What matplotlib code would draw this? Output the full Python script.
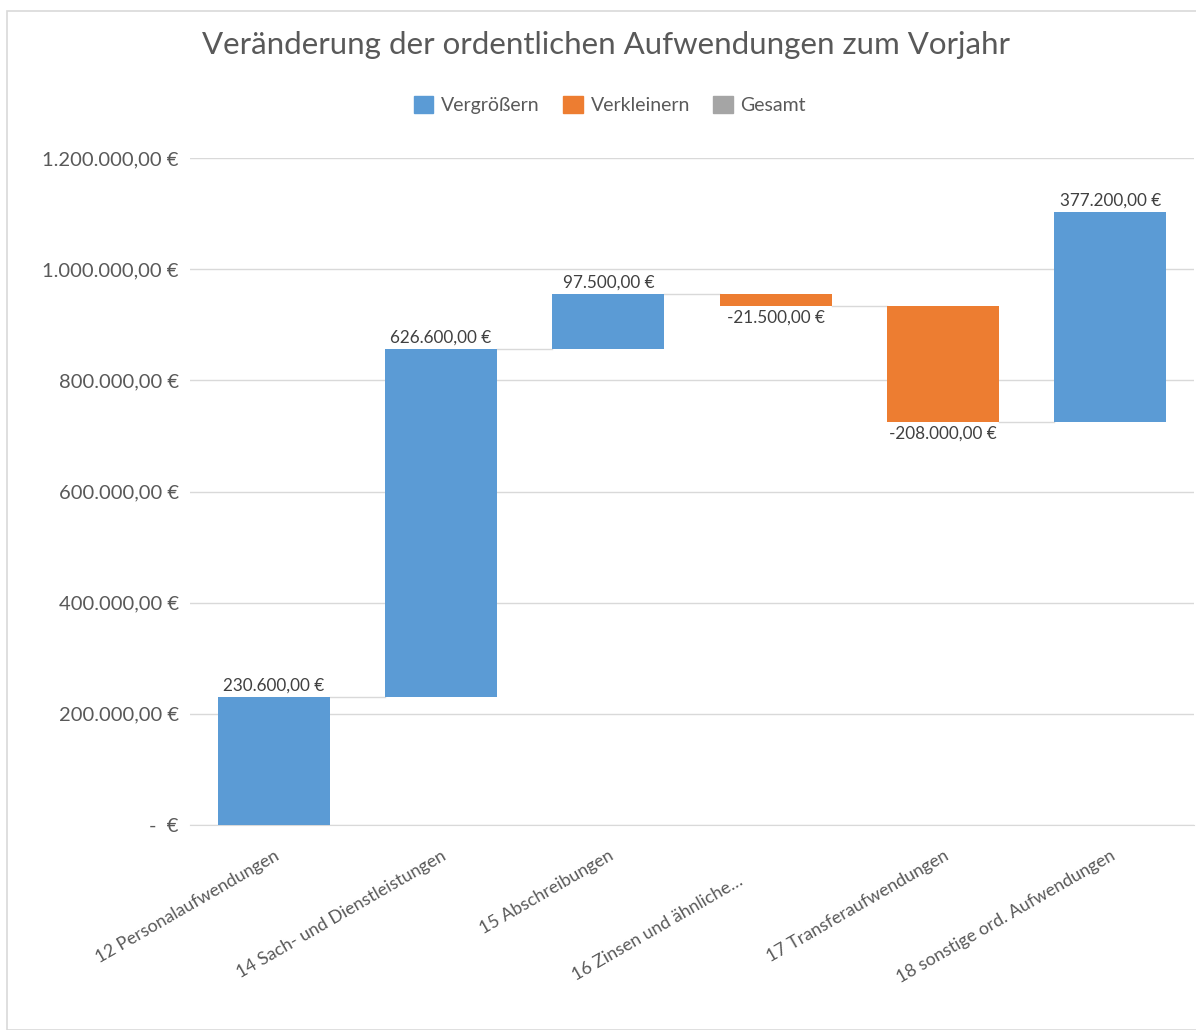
import numpy as np
import matplotlib.pyplot as plt
import matplotlib.transforms as mtransforms
from matplotlib.patches import Patch, Rectangle

plt.rcParams['font.family'] = ['Lato', 'DejaVu Sans']

categories = ['12 Personalaufwendungen', '14 Sach- und Dienstleistungen', '15 Abschreibungen',
              '16 Zinsen und ähnliche…', '17 Transferaufwendungen', '18 sonstige ord. Aufwendungen']
values = [230600, 626600, 97500, -21500, -208000, 377200]
yticks = [0, 200000, 400000, 600000, 800000, 1000000, 1200000]

c_up = '#5b9bd5'
c_down = '#ed7d31'
c_total = '#a5a5a5'
c_text = '#595959'


def eur(v):
    if v == 0:
        return '-  €'
    s = '{:,.2f}'.format(abs(v)).replace(',', 'X').replace('.', ',').replace('X', '.')
    return ('-' if v < 0 else '') + s + ' €'


fig = plt.figure(figsize=(11.96, 10.30), dpi=100)
ax = fig.add_axes([190 / 1196, 1 - 825 / 1030, 1004 / 1196, (825 - 158) / 1030])

# figure border
fig.patches.append(Rectangle((7 / 1196, 0), 1, 1 - 11 / 1030, transform=fig.transFigure,
                             fill=False, edgecolor='#d9d9d9', linewidth=1.2))

x = np.arange(len(values))
ends = np.cumsum(values)
starts = ends - np.array(values)
width = 0.67
colors = [c_up if v >= 0 else c_down for v in values]
ax.bar(x, np.array(values), bottom=starts, width=width, color=colors, zorder=3)

# connectors
for i in range(len(values) - 1):
    ax.plot([x[i] + width / 2, x[i + 1] - width / 2], [ends[i], ends[i]],
            color='#d9d9d9', linewidth=1, zorder=2)

# data labels
for i, v in enumerate(values):
    if v >= 0:
        ax.text(x[i], ends[i] + 6000, eur(v), ha='center', va='bottom', fontsize=12.3, color='#404040')
    else:
        ax.text(x[i], ends[i] - 6000, eur(v), ha='center', va='top', fontsize=12.3, color='#404040')

ax.set_xlim(-0.5, len(values) - 0.5)
ax.set_ylim(0, 1200000)
ax.set_yticks(yticks)
ax.set_yticklabels([eur(t) for t in yticks], fontsize=14.5, color=c_text)
ax.yaxis.grid(True, color='#d9d9d9', linewidth=1)
ax.set_axisbelow(True)
ax.tick_params(axis='y', length=0, pad=8)
ax.tick_params(axis='x', length=0, pad=6)
ax.set_xticks(x)
ax.set_xticklabels(categories, rotation=30, ha='right', rotation_mode='anchor',
                   fontsize=12.8, color=c_text)
for i, lbl in enumerate(ax.get_xticklabels()):
    dx, dy = (-38, -39) if i == 3 else (0, -14)
    shift = mtransforms.ScaledTranslation(dx / 100, dy / 100, fig.dpi_scale_trans)
    lbl.set_transform(lbl.get_transform() + shift)
for s in ['top', 'right', 'left']:
    ax.spines[s].set_visible(False)
ax.spines['bottom'].set_color('#d9d9d9')

fig.text(606 / 1196, 1 - 45 / 1030, 'Veränderung der ordentlichen Aufwendungen zum Vorjahr',
         ha='center', va='center', fontsize=22.5, color=c_text)

handles = [Patch(color=c_up, label='Vergrößern'),
           Patch(color=c_down, label='Verkleinern'),
           Patch(color=c_total, label='Gesamt')]
fig.legend(handles=handles, loc='center', bbox_to_anchor=(0.51, 1 - 105 / 1030), ncol=3,
           frameon=False, fontsize=14, handlelength=1.0, handleheight=1.0,
           handletextpad=0.4, columnspacing=1.2, labelcolor=c_text)

fig.savefig('out.png', dpi=100)
